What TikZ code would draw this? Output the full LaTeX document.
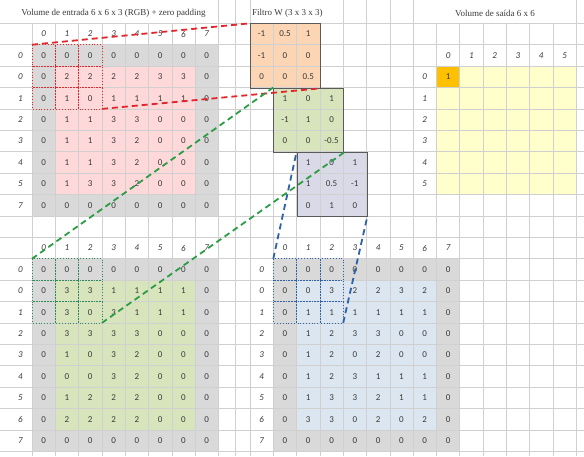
\documentclass[tikz,border=0pt]{standalone}
\usepackage{fontspec}
\setmainfont{Liberation Serif}
\newfontfamily\calfont{Carlito}
\definecolor{gridc}{HTML}{D0D0D0}
\definecolor{grayc}{HTML}{D9D9D9}
\definecolor{pinkc}{HTML}{FFD9D9}
\definecolor{greenc}{HTML}{D8E4BC}
\definecolor{bluec}{HTML}{DCE6F1}
\definecolor{orangec}{HTML}{FCD5B4}
\definecolor{lavc}{HTML}{DAD9E8}
\definecolor{yellowc}{HTML}{FFFFCC}
\definecolor{outc}{HTML}{FFC000}
\definecolor{numc}{HTML}{3A3A3A}
\definecolor{borderc}{HTML}{5A5A5A}
\definecolor{redd}{HTML}{E3262B}
\definecolor{greend}{HTML}{2A9D45}
\definecolor{blued}{HTML}{2E62A8}
\definecolor{teald}{HTML}{2E8B5A}
\pgfmathdeclarefunction{lx}{1}{\pgfmathparse{8.7+23.3*(#1)}}
\pgfmathdeclarefunction{rx}{1}{\pgfmathparse{250+23.3*(#1)}}
\pgfmathdeclarefunction{ry}{1}{\pgfmathparse{23.3+21.4*((#1)-1)}}
\begin{document}
\begin{tikzpicture}[x=1pt,y=-1pt,
  num/.style={font=\calfont\fontsize{9}{10}\selectfont, text=numc, inner sep=0pt},
  lab/.style={font=\calfont\itshape\fontsize{9}{10}\selectfont, text=numc, inner sep=0pt},
  titl/.style={font=\fontsize{9}{10}\selectfont, text=numc, fill=white, inner sep=1pt},
  gridline/.style={draw=gridc, line width=0.6pt},
  fbox/.style={draw=borderc, line width=0.8pt, inner sep=0pt, minimum width=69.9pt, minimum height=64.2pt, anchor=north west},
  dotbox/.style={line width=0.8pt, dotted},
  conn/.style={line width=1.8pt, dash pattern=on 6pt off 4pt}]
\useasboundingbox (0,0) rectangle (584,456);
\fill[white] (0,0) rectangle (584,456);
% ---------- fills ----------
\fill[grayc] ({lx(1)},{ry(2)}) rectangle ({lx(9)},{ry(10)});
\fill[pinkc] ({lx(2)},{ry(3)}) rectangle ({lx(8)},{ry(9)});
\fill[grayc] ({lx(1)},{ry(12)}) rectangle ({lx(9)},{ry(21)});
\fill[greenc] ({lx(2)},{ry(13)}) rectangle ({lx(8)},{ry(20)});
\fill[grayc] ({rx(1)},{ry(12)}) rectangle ({rx(9)},{ry(21)});
\fill[bluec] ({rx(2)},{ry(13)}) rectangle ({rx(8)},{ry(20)});
\fill[yellowc] ({rx(8)},{ry(3)}) rectangle ({rx(14)},{ry(9)});
\fill[outc] ({rx(8)},{ry(3)}) rectangle ({rx(9)},{ry(4)});
\fill[orangec] ({rx(0)},{ry(1)}) rectangle ({rx(3)},{ry(4)});
\fill[greenc] ({rx(1)},{ry(4)}) rectangle ({rx(4)},{ry(7)});
\fill[lavc] ({rx(2)},{ry(7)}) rectangle ({rx(5)},{ry(10)});
% ---------- grid lines ----------
\foreach \k in {1,...,21} \draw[gridline] (0,{ry(\k)}) -- (584,{ry(\k)});
\foreach \k in {1,...,9} \draw[gridline] ({lx(\k)},{ry(1)}) -- ({lx(\k)},456);
\draw[gridline] (235,0) -- (235,456);
\draw[gridline] ({lx(9)},0) -- ({lx(9)},{ry(1)});
\foreach \k in {0,...,14} \draw[gridline] ({rx(\k)},{ry(1)}) -- ({rx(\k)},456);
\foreach \k in {0,4,5,6,7,14} \draw[gridline] ({rx(\k)},0) -- ({rx(\k)},{ry(1)});
% ---------- filter boxes ----------
\node[fbox] (fO) at ({rx(0)},{ry(1)}) {};
\node[fbox] (fG) at ({rx(1)},{ry(4)}) {};
\node[fbox] (fL) at ({rx(2)},{ry(7)}) {};
% ---------- dotted 3x3 windows ----------
\foreach \i in {1,2,3} \foreach \j in {2,3,4}
  \draw[dotbox, redd] ({lx(\i)},{ry(\j)}) rectangle ({lx(\i+1)},{ry(\j+1)});
\foreach \i in {1,2,3} \foreach \j in {12,13,14}
  \draw[dotbox, teald] ({lx(\i)},{ry(\j)}) rectangle ({lx(\i+1)},{ry(\j+1)});
\foreach \i in {1,2,3} \foreach \j in {12,13,14}
  \draw[dotbox, blued] ({rx(\i)},{ry(\j)}) rectangle ({rx(\i+1)},{ry(\j+1)});
% ---------- titles ----------
\node[titl] (t1) at (113.5,13.5) {Volume de entrada 6 x 6 x 3 (RGB) + zero padding};
\node[titl, anchor=west, inner sep=0pt] (t2) at (252,13.5) {Filtro W (3 x 3 x 3)};
\node[titl, fill=none] (t3) at (495,13.5) {Volume de saída 6 x 6};
% ---------- top-left grid ----------
\foreach \c in {0,...,7} \node[lab] (tlh-\c) at ({lx(\c+1)+11.65},{ry(1)+10.7}) {\c};
\foreach \t [count=\r from 2] in {0,0,1,2,3,4,5,7} \node[lab] (tlr-\r) at (20.35,{ry(\r)+10.7}) {\t};
\foreach \rowvals [count=\r from 2] in {{0,0,0,0,0,0,0,0},{0,2,2,2,2,3,3,0},{0,1,0,1,1,1,1,0},{0,1,1,3,3,0,0,0},{0,1,1,3,2,0,0,0},{0,1,1,3,2,0,0,0},{0,1,3,3,2,0,0,0},{0,0,0,0,0,0,0,0}}
  \foreach \v [count=\c] in \rowvals
    \node[num] (tl-\r-\c) at ({lx(\c)+11.65},{ry(\r)+10.7}) {\v};
% ---------- bottom-left grid ----------
\foreach \c in {0,...,7} \node[lab] (blh-\c) at ({lx(\c+1)+11.65},{ry(11)+10.7}) {\c};
\foreach \t [count=\r from 12] in {0,0,1,2,3,4,5,6,7} \node[lab] (blr-\r) at (20.35,{ry(\r)+10.7}) {\t};
\foreach \rowvals [count=\r from 12] in {{0,0,0,0,0,0,0,0},{0,3,3,1,1,1,1,0},{0,3,0,3,1,1,1,0},{0,3,3,3,3,0,0,0},{0,1,0,3,2,0,0,0},{0,0,0,3,2,0,0,0},{0,1,2,2,2,0,0,0},{0,2,2,2,2,0,0,0},{0,0,0,0,0,0,0,0}}
  \foreach \v [count=\c] in \rowvals
    \node[num] (bl-\r-\c) at ({lx(\c)+11.65},{ry(\r)+10.7}) {\v};
% ---------- bottom-right grid ----------
\foreach \c in {0,...,7} \node[lab] (brh-\c) at ({rx(\c+1)+11.65},{ry(11)+10.7}) {\c};
\foreach \t [count=\r from 12] in {0,0,1,2,3,4,5,6,7} \node[lab] (brr-\r) at ({rx(0)+11.65},{ry(\r)+10.7}) {\t};
\foreach \rowvals [count=\r from 12] in {{0,0,0,0,0,0,0,0},{0,0,3,2,2,3,2,0},{0,1,1,1,1,1,1,0},{0,1,2,3,3,0,0,0},{0,1,2,0,2,0,0,0},{0,1,2,3,1,1,1,0},{0,1,3,3,2,1,1,0},{0,3,3,0,2,0,2,0},{0,0,0,0,0,0,0,0}}
  \foreach \v [count=\c] in \rowvals
    \node[num] (br-\r-\c) at ({rx(\c)+11.65},{ry(\r)+10.7}) {\v};
% ---------- filters ----------
\foreach \rowvals [count=\r from 1] in {{-1,0.5,1},{-1,0,0},{0,0,0.5}}
  \foreach \v [count=\c from 0] in \rowvals
    \node[num] (fo-\r-\c) at ({rx(\c)+11.65},{ry(\r)+10.7}) {\v};
\foreach \rowvals [count=\r from 4] in {{1,0,1},{-1,1,0},{0,0,-0.5}}
  \foreach \v [count=\c from 1] in \rowvals
    \node[num] (fg-\r-\c) at ({rx(\c)+11.65},{ry(\r)+10.7}) {\v};
\foreach \rowvals [count=\r from 7] in {{1,0,1},{1,0.5,-1},{0,1,0}}
  \foreach \v [count=\c from 2] in \rowvals
    \node[num] (fl-\r-\c) at ({rx(\c)+11.65},{ry(\r)+10.7}) {\v};
% ---------- output grid ----------
\foreach \c in {0,...,5} \node[lab] (oh-\c) at ({rx(\c+8)+11.65},{ry(2)+10.7}) {\c};
\foreach \t [count=\r from 3] in {0,...,5} \node[lab] (or-\r) at ({rx(7)+11.65},{ry(\r)+10.7}) {\t};
\node[num] (o-3-8) at ({rx(8)+11.65},{ry(3)+10.7}) {1};
% ---------- connectors ----------
\coordinate (tlA) at ({lx(1)},{ry(2)});
\coordinate (tlB) at ({lx(4)},{ry(5)});
\coordinate (blA) at ({lx(1)},{ry(12)});
\coordinate (blB) at ({lx(4)},{ry(15)});
\coordinate (brA) at ({rx(1)},{ry(12)});
\coordinate (brB) at ({rx(4)},{ry(15)});
\draw[conn, redd] (tlA) -- (fO.north west);
\draw[conn, redd] (tlB) -- (fO.south east);
\draw[conn, greend] (blA) -- (fG.north west);
\draw[conn, greend] (blB) -- (fG.south east);
\draw[conn, blued] (brA) -- (fL.north west);
\draw[conn, blued] (brB) -- (fL.south east);
\end{tikzpicture}
\end{document}
